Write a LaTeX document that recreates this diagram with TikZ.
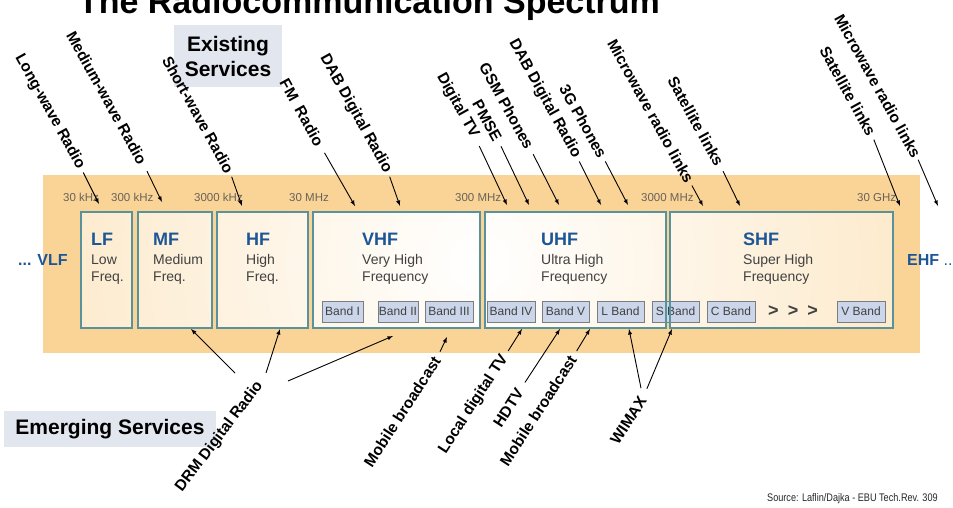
\documentclass[tikz,border=0pt]{standalone}
\usepackage{fontspec}
\setmainfont{Liberation Sans}
\newfontfamily\narrowfont[FakeStretch=0.83]{Liberation Sans}
\usetikzlibrary{arrows,calc,positioning}
\tikzset{>=latex}

\definecolor{bandorange}{RGB}{250,212,150}
\definecolor{boxline}{RGB}{88,146,156}
\definecolor{bandfill}{RGB}{204,214,234}
\definecolor{bandline}{RGB}{125,125,125}
\definecolor{nameblue}{RGB}{28,86,150}
\definecolor{infogray}{RGB}{65,65,65}
\definecolor{freqgray}{RGB}{105,98,90}
\definecolor{servfill}{RGB}{226,230,238}

\newcommand{\bandtitle}[1]{{\fontsize{18}{18}\selectfont\bfseries\color{nameblue}#1}}

\tikzset{
  freqbox/.style={minimum height=116pt, inner sep=0},
  bandbox/.style={draw=bandline, fill=bandfill, minimum height=21pt, inner sep=0,
    text=infogray, font=\fontsize{12}{14}\selectfont},
  freqlab/.style={anchor=base west, inner sep=0, text=freqgray, font=\fontsize{11.5}{13}\selectfont},
  bandname/.style={anchor=north west, inner sep=0, align=left, text=infogray,
    font=\fontsize{14}{17}\selectfont},
  toplab/.style={rotate=-61, anchor=east, inner sep=0, font=\fontsize{15.5}{18}\selectfont\bfseries},
  botlab/.style={rotate=57, anchor=east, inner sep=0, font=\fontsize{15.5}{18}\selectfont\bfseries},
  servbox/.style={fill=servfill, align=center, inner sep=0, font=\fontsize{21}{25}\selectfont\bfseries},
  pointer/.style={->, line width=0.9pt}
}

\begin{document}
\begin{tikzpicture}[x=1pt,y=-1pt]
  \useasboundingbox (0,0) rectangle (953,507);
  \clip (0,0) rectangle (953,507);

  % Spectrum band
  \fill[bandorange] (43,175) rectangle (920,353);

  % Frequency ranges
  \node[freqbox, minimum width=51pt]  (lf)  at (106.5,270) {};
  \node[freqbox, minimum width=74pt]  (mf)  at (175,270)   {};
  \node[freqbox, minimum width=91pt]  (hf)  at (262.5,270) {};
  \node[freqbox, minimum width=167pt] (vhf) at (396.5,270) {};
  \node[freqbox, minimum width=181pt] (uhf) at (575.5,270) {};
  \node[freqbox, minimum width=223pt] (shf) at (781.5,270) {};
  \begin{scope}
    \clip (lf.south west) rectangle (lf.north east)
      (mf.south west) rectangle (mf.north east)
      (hf.south west) rectangle (hf.north east)
      (vhf.south west) rectangle (vhf.north east)
      (uhf.south west) rectangle (uhf.north east)
      (shf.south west) rectangle (shf.north east);
    \shade[inner color=white, outer color=bandorange] (480,262) circle (880pt);
  \end{scope}

  % Sub-bands
  \foreach \n/\x/\w/\t in {b1/342.5/41/Band I, b2/398/40/Band II, b3/449/48/Band III,
      b4/511/48/Band IV, b5/565.5/47/Band V, b6/620.5/47/L Band,
      b7/675.5/47/S Band, b8/731/48/C Band, b9/861/48/V Band}
    \node[bandbox, minimum width=\w pt] (\n) at (\x,311.5) {\t};
  \node[font=\fontsize{18}{20}\selectfont\bfseries, text=infogray] (more) at (793,311)
    {>\hspace{9pt}>\hspace{9pt}>};

  \foreach \b in {lf,mf,hf,vhf,uhf,shf}
    \draw[boxline, line width=1.5pt] (\b.south west) rectangle (\b.north east);

  % Range names
  \node[bandname] (lf-name)  at (91,233)  {\bandtitle{LF}\\[2pt]Low\\Freq.};
  \node[bandname] (mf-name)  at (153,233) {\bandtitle{MF}\\[2pt]Medium\\Freq.};
  \node[bandname] (hf-name)  at (246,233) {\bandtitle{HF}\\[2pt]High\\Freq.};
  \node[bandname] (vhf-name) at (362,233) {\bandtitle{VHF}\\[2pt]Very High\\Frequency};
  \node[bandname] (uhf-name) at (541,233) {\bandtitle{UHF}\\[2pt]Ultra High\\Frequency};
  \node[bandname] (shf-name) at (743,233) {\bandtitle{SHF}\\[2pt]Super High\\Frequency};
  \node[anchor=base west, inner sep=0, text=nameblue, font=\fontsize{16}{18}\selectfont\bfseries]
    (vlf) at (18,265) {... VLF};
  \node[anchor=base west, inner sep=0, text=nameblue, font=\fontsize{16}{18}\selectfont\bfseries]
    (ehf) at (907,265) {EHF \mdseries ...};

  % Frequency markers
  \node[freqlab] (f1) at (63,201)  {30 kHz};
  \node[freqlab] (f2) at (111,201) {300 kHz};
  \node[freqlab] (f3) at (194,201) {3000 kHz};
  \node[freqlab] (f4) at (289,201) {30 MHz};
  \node[freqlab] (f5) at (455,201) {300 MHz};
  \node[freqlab] (f6) at (641,201) {3000 MHz};
  \node[freqlab] (f7) at (857,201) {30 GHz};

  % Titles
  \node[anchor=base, inner sep=0, font=\fontsize{34}{40}\selectfont\bfseries] (title) at (369,13)
    {The Radiocommunication Spectrum};
  \node[servbox, minimum width=108pt, minimum height=62pt] (existing) at (228,56) {Existing\\Services};
  \node[servbox, minimum width=212pt, minimum height=36pt] (emerging) at (110,429) {Emerging Services};
  \node[anchor=base west, inner sep=0, text=black!85, font=\narrowfont\fontsize{11}{13}\selectfont]
    (source) at (767,501) {Source: Laflin/Dajka - EBU Tech.Rev. 309};

  % Existing services
  \node[toplab] (lwr)  at (81,168)  {Long-wave Radio};
  \node[toplab] (mwr)  at (143,163) {Medium-wave Radio};
  \node[toplab] (swr)  at (230,172) {Short-wave Radio};
  \node[toplab] (fmr)  at (320,145) {FM\ \ Radio};
  \node[toplab] (dab1) at (388,172) {DAB Digital Radio};
  \node[toplab] (dtv)  at (475,137) {Digital TV};
  \node[toplab] (pmse) at (498,140) {PMSE};
  \node[toplab] (gsm)  at (530,148) {GSM Phones};
  \node[toplab] (dab2) at (577,157) {DAB Digital Radio};
  \node[toplab] (g3)   at (603,157) {3G Phones};
  \node[toplab] (mw1)  at (690,182) {Microwave radio links};
  \node[toplab] (sat1) at (720,165) {Satellite links};
  \node[toplab] (sat2) at (872,135) {Satellite links};
  \node[toplab] (mw2)  at (917,157) {Microwave radio links};

  \coordinate (t-lwr)  at (99,204);
  \coordinate (t-mwr)  at (162,202);
  \coordinate (t-swr)  at (242,206);
  \coordinate (t-fmr)  at (355,206);
  \coordinate (t-dab1) at (400,206);
  \coordinate (t-dtv)  at (507,205);
  \coordinate (t-pmse) at (529,205);
  \coordinate (t-gsm)  at (559,205);
  \coordinate (t-dab2) at (601,205);
  \coordinate (t-g3)   at (628,205);
  \coordinate (t-mw1)  at (703,206);
  \coordinate (t-sat1) at (740,206);
  \coordinate (t-sat2) at (900,206);
  \coordinate (t-mw2)  at (938,206);
  \foreach \l/\s in {lwr/5pt, mwr/9pt, swr/5pt, fmr/9pt, dab1/5pt, dtv/10pt, pmse/7pt,
      gsm/7pt, dab2/5pt, g3/5pt, mw1/4pt, sat1/7pt, sat2/5pt, mw2/3pt}
    \draw[pointer, shorten <=\s] (\l.east) -- (t-\l);

  % Emerging services
  \node[botlab, rotate=-4] (drm) at (260,383) {DRM Digital Radio};
  \node[botlab] (mob1)  at (437,358) {Mobile broadcast};
  \node[botlab] (ldtv)  at (505,356) {Local digital TV};
  \node[botlab] (hdtv)  at (520,390) {HDTV};
  \node[botlab] (mob2)  at (573,357) {Mobile broadcast};
  \node[botlab] (wimax) at (643,398) {WIMAX};

  \coordinate (t-drm1) at (191,329);
  \coordinate (t-drm2) at (280,329);
  \coordinate (t-drm3) at (393,336);
  \coordinate (t-mob1) at (447,337);
  \coordinate (t-ldtv) at (522,329);
  \coordinate (t-hdtv) at (560,329);
  \coordinate (t-mob2) at (590,329);
  \coordinate (t-wim1) at (629,329);
  \coordinate (t-wim2) at (672,329);
  \draw[pointer] ($(drm.east)+(-25,-10)$) -- (t-drm1);
  \draw[pointer] ($(drm.east)+(6,-10)$) -- (t-drm2);
  \draw[pointer] ($(drm.east)+(28,-2)$) -- (t-drm3);
  \foreach \l/\s in {mob1/7pt, ldtv/6pt, hdtv/9pt, mob2/7pt}
    \draw[pointer, shorten <=\s] (\l.east) -- (t-\l);
  \draw[pointer, shorten <=10pt] (wimax.east) -- (t-wim1);
  \draw[pointer, shorten <=10pt] (wimax.east) -- (t-wim2);
\end{tikzpicture}
\end{document}
